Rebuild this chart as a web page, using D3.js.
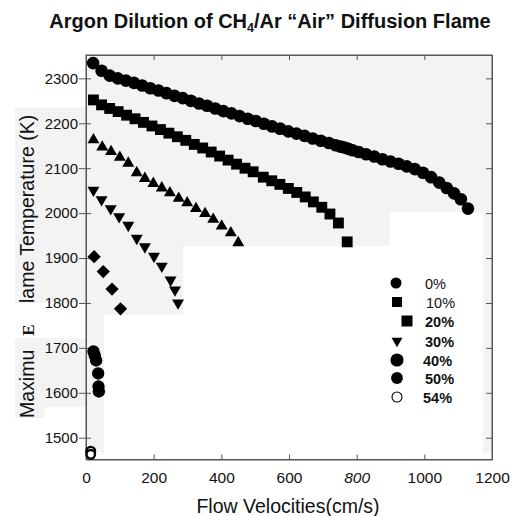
<!DOCTYPE html>
<html>
<head>
<meta charset="utf-8">
<script src="https://cdn.jsdelivr.net/npm/d3@7"></script>
<style>
  body { margin: 0; background: #fff; }
  text { font-family: "Liberation Sans", Arial, sans-serif; fill: #111; }
</style>
</head>
<body>
<div id="chart"></div>
<script>
// flow velocity (cm/s) and max flame temperature (K)
let v0 = [21, 46, 70, 94, 118, 142, 166, 190, 214, 238, 262, 286, 310, 334, 358, 382, 406, 430, 454, 478, 502, 526, 550, 574, 598, 622, 646, 670, 694, 718, 738, 752, 764, 776, 788, 806, 828, 852, 876, 900, 924, 948, 972, 996, 1020, 1044, 1066, 1088, 1108, 1129];
let t0 = [2334, 2317, 2306, 2300, 2295, 2290, 2284, 2278, 2273, 2267, 2261, 2256, 2250, 2244, 2239, 2233, 2227, 2222, 2216, 2210, 2205, 2199, 2193, 2188, 2182, 2177, 2172, 2166, 2161, 2156, 2151, 2148, 2146, 2143, 2140, 2136, 2131, 2126, 2120, 2115, 2110, 2104, 2098, 2090, 2080, 2068, 2056, 2044, 2031, 2010];

let v10 = [22, 46, 70, 95, 120, 145, 170, 195, 220, 245, 270, 295, 320, 345, 370, 395, 420, 445, 470, 494, 524, 549, 573, 598, 623, 648, 672, 697, 721, 746, 772];
let t10 = [2252, 2241, 2233, 2226, 2218, 2210, 2202, 2194, 2186, 2178, 2170, 2162, 2153, 2145, 2136, 2127, 2118, 2109, 2100, 2092, 2080, 2072, 2064, 2055, 2046, 2036, 2025, 2013, 1998, 1978, 1936];

let v20 = [22, 48, 74, 100, 125, 150, 174, 199, 224, 248, 274, 299, 325, 352, 376, 401, 428, 450];
let t20 = [2163, 2147, 2137, 2124, 2111, 2090, 2077, 2066, 2056, 2045, 2033, 2023, 2010, 1999, 1986, 1971, 1956, 1934];

let v30 = [22, 46, 73, 98, 125, 150, 174, 201, 224, 250, 263, 272];
let t30 = [2051, 2030, 2010, 1992, 1973, 1944, 1925, 1904, 1882, 1851, 1829, 1800];

let v40 = [24, 51, 77, 102];
let t40 = [1903, 1870, 1831, 1787];

let v50 = [22, 26, 30, 36, 37, 38];
let t50 = [1692, 1683, 1672, 1643, 1614, 1603];

let v54 = [14, 14];
let t54 = [1470, 1463];

let xTicks = [0, 200, 400, 600, 800, 1000, 1200];
let yTicks = [1500, 1600, 1700, 1800, 1900, 2000, 2100, 2200, 2300];
let legendLabels = ["0%", "10%", "20%", "30%", "40%", "50%", "54%"];

const W = 516, H = 516;
const margin = {top: 55, right: 24, bottom: 56.5, left: 86};
const pw = W - margin.left - margin.right, ph = H - margin.top - margin.bottom;
const GRAY = "#f3f3f3";

let svg = d3.select("#chart").append("svg")
    .attr("width", W)
    .attr("height", H);

// scanned-page background: grey patches with white holes
let gray = [[15, 107, 71, 196], [15, 338, 71, 69], [15, 407, 30, 11], [86, 55, 406, 398]];
let white = [[104, 315, 286, 146], [183, 246, 207, 215], [390, 212, 93, 249]];
svg.selectAll("rect.gray").data(gray).enter().append("rect")
    .attr("x", d => d[0]).attr("y", d => d[1]).attr("width", d => d[2]).attr("height", d => d[3])
    .attr("fill", GRAY);
svg.selectAll("rect.white").data(white).enter().append("rect")
    .attr("x", d => d[0]).attr("y", d => d[1]).attr("width", d => d[2]).attr("height", d => d[3])
    .attr("fill", "#fff");

let g = svg.append("g")
    .attr("transform", `translate(${margin.left},${margin.top})`);

let x = d3.scaleLinear().domain([0, 1200]).range([0, pw]);
let y = d3.scaleLinear().domain([1451.5, 2352]).range([ph, 0]);

// frame
g.append("rect")
    .attr("width", pw).attr("height", ph)
    .attr("fill", "none").attr("stroke", "#555").attr("stroke-width", 1);

let bottom = g.append("g")
    .attr("transform", `translate(0,${ph})`)
    .call(d3.axisBottom(x).tickValues(xTicks).tickFormat(d3.format("d"))
        .tickSize(-5).tickSizeOuter(0).tickPadding(12));
bottom.selectAll("text")
    .style("font-size", "15.5px")
    .style("font-style", function(d) { return d == 800 ? "italic" : "normal"; });

g.append("g")
    .call(d3.axisTop(x).tickValues(xTicks).tickSize(-5).tickSizeOuter(0).tickFormat(""));

let left = g.append("g")
    .call(d3.axisLeft(y).tickValues(yTicks).tickFormat(d3.format("d"))
        .tickSize(7).tickSizeOuter(0).tickPadding(1));
left.selectAll(".tick line").attr("x1", 5);
left.selectAll("text").style("font-size", "15px");

g.append("g")
    .attr("transform", `translate(${pw},0)`)
    .call(d3.axisRight(y).tickValues(yTicks).tickSize(-6).tickSizeOuter(0).tickFormat(""));

g.selectAll(".domain").attr("stroke", "#555");
g.selectAll(".tick line").attr("stroke", "#555");

function pts(vs, ts) {
    return vs.map(function(v, i) { return {v: v, t: ts[i]}; });
}

function plot(data, type, size, rot) {
    g.append("g").selectAll("path").data(data).enter().append("path")
        .attr("d", d3.symbol().type(type).size(size))
        .attr("transform", function(d) { return `translate(${x(d.v)},${y(d.t)}) rotate(${rot})`; })
        .attr("fill", "#000");
}

plot(pts(v0, t0), d3.symbolCircle, 125, 0);
plot(pts(v10, t10), d3.symbolSquare, 118, 0);
plot(pts(v20, t20), d3.symbolTriangle, 62, 0);
plot(pts(v30, t30), d3.symbolTriangle, 62, 180);
plot(pts(v40, t40), d3.symbolSquare, 88, 45);
plot(pts(v50, t50), d3.symbolCircle, 120, 0);

g.append("g").selectAll("circle").data(pts(v54, t54)).enter().append("circle")
    .attr("cx", function(d) { return x(d.v); })
    .attr("cy", function(d) { return y(d.t); })
    .attr("r", 4.3)
    .attr("fill", "#fff")
    .attr("stroke", "#000")
    .attr("stroke-width", 2.4);

// legend (as printed on the scan)
let legY = [283, 302, 321, 341, 360, 378, 397];
let legX = [396, 397, 407, 397, 397, 397, 397];
let legSym = [
    [d3.symbolCircle, 95, 0, "#000"],
    [d3.symbolSquare, 100, 0, "#000"],
    [d3.symbolSquare, 121, 0, "#000"],
    [d3.symbolTriangle, 52, 180, "#000"],
    [d3.symbolCircle, 135, 0, "#000"],
    [d3.symbolCircle, 110, 0, "#000"],
    [d3.symbolCircle, 78, 0, "#fff"]
];
let legWeight = ["normal", "normal", "bold", "bold", "bold", "bold", "bold"];
let legTextX = [425, 426, 425, 425, 423, 425, 423];

let leg = svg.append("g");
legendLabels.forEach(function(lab, i) {
    leg.append("path")
        .attr("d", d3.symbol().type(legSym[i][0]).size(legSym[i][1]))
        .attr("transform", `translate(${legX[i]},${legY[i]}) rotate(${legSym[i][2]})`)
        .attr("fill", legSym[i][3])
        .attr("stroke", "#000")
        .attr("stroke-width", i == 6 ? 1.1 : 0);
    leg.append("text")
        .attr("x", legTextX[i])
        .attr("y", legY[i] + 5.5)
        .style("font-size", "14.5px")
        .style("font-weight", legWeight[i])
        .text(lab);
});

// titles
let title = svg.append("text")
    .attr("x", 270).attr("y", 28)
    .attr("text-anchor", "middle")
    .style("font-size", "20px")
    .style("font-weight", "bold");
title.append("tspan").text("Argon Dilution of CH");
title.append("tspan").attr("dy", 4).style("font-size", "12.5px").text("4");
title.append("tspan").attr("dy", -4).text("/Ar \u201CAir\u201D Diffusion Flame");

svg.append("text")
    .attr("x", 288).attr("y", 513)
    .attr("text-anchor", "middle")
    .style("font-size", "19.5px")
    .text("Flow Velocities(cm/s)");

svg.append("text")
    .attr("transform", "translate(34,418) rotate(-90)")
    .style("font-size", "19.5px")
    .text("Maximu");
svg.append("text")
    .attr("transform", "translate(34,330) rotate(-90)")
    .attr("text-anchor", "middle")
    .style("font-size", "17px")
    .style("font-weight", "bold")
    .style("font-family", "'Liberation Serif', serif")
    .text("E");
svg.append("text")
    .attr("transform", "translate(34,303) rotate(-90)")
    .style("font-size", "19.5px")
    .text("lame Temperature (K)");
</script>
</body>
</html>
